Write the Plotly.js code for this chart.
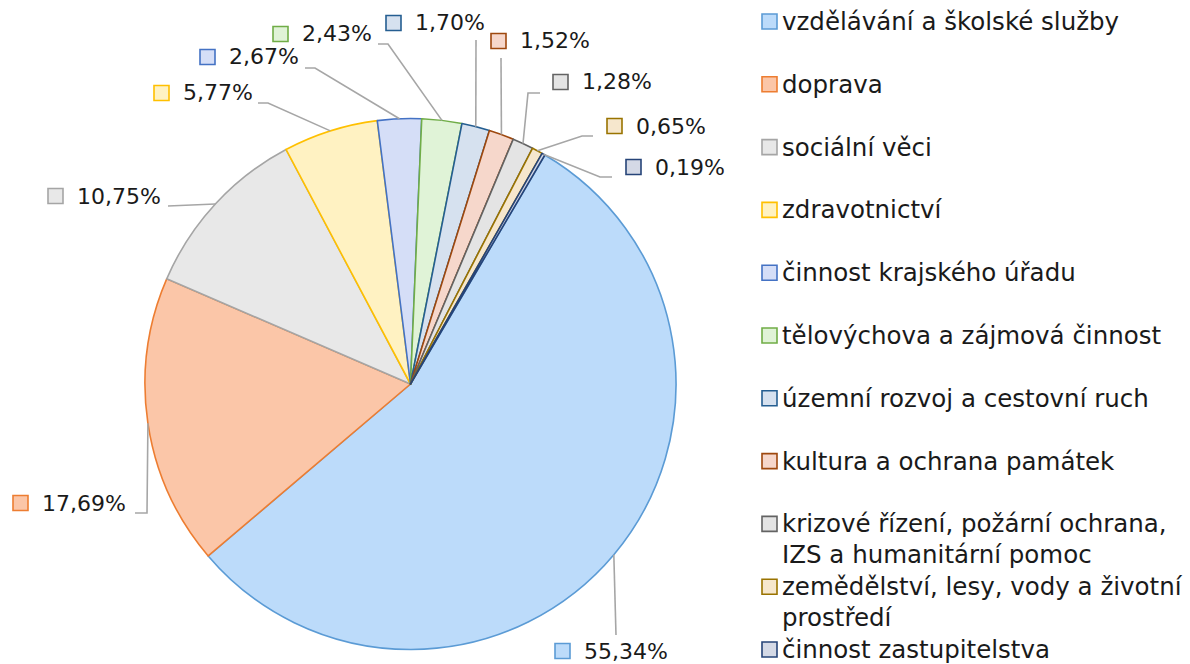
<!DOCTYPE html>
<html>
<head>
<meta charset="utf-8">
<script src="https://cdn.plot.ly/plotly-3.0.1.min.js"></script>
<style>html,body{margin:0;padding:0;background:#fff;}#chart{width:1190px;height:664px;}</style>
</head>
<body>
<div id="chart"></div>
<script>
// ---- data ----
const categories = [
  "vzdělávání a školské služby",
  "doprava",
  "sociální věci",
  "zdravotnictví",
  "činnost krajského úřadu",
  "tělovýchova a zájmová činnost",
  "územní rozvoj a cestovní ruch",
  "kultura a ochrana památek",
  "krizové řízení, požární ochrana,<br>IZS a humanitární pomoc",
  "zemědělství, lesy, vody a životní<br>prostředí",
  "činnost zastupitelstva"
];
const shares = [55.34, 17.69, 10.75, 5.77, 2.67, 2.43, 1.70, 1.52, 1.28, 0.65, 0.19];

// ---- styles ----
const fillColors = ['#bcdbfa', '#fbc6a8', '#e8e8e8', '#fff2c2', '#d5def7', '#e0f3d7', '#d6e1ef', '#f6d7cb', '#e4e4e4', '#f6e7cd', '#d4d9e6'];
const lineColors = ['#5b9bd5', '#ed7d31', '#a5a5a5', '#ffc000', '#4472c4', '#70ad47', '#255e91', '#9e480e', '#636363', '#997300', '#264478'];

const W = 1190, H = 664;
const CX = 410.5, CY = 384, R = 265.5;   // pie placement (px)
const ROT = 30.4;                          // start angle of first slice (deg, clockwise from 12 o'clock)
const FONT = 'DejaVu Sans, sans-serif';
const TEXT_COLOR = '#1a1a1a';

// label placement: square left x / centre y, and leader points from label towards slice edge (px)
const labelLayout = [
  {sq: [555, 651], lead: [[616, 635]]},
  {sq: [13, 503],  lead: [[135, 513], [147, 513]]},
  {sq: [48, 196],  lead: [[168, 206]]},
  {sq: [154, 93],  lead: [[258, 103], [268, 103]]},
  {sq: [200, 57],  lead: [[305, 68], [315, 68]]},
  {sq: [273, 34],  lead: [[378, 44], [388, 44]]},
  {sq: [386, 23],  lead: [[476, 40]]},
  {sq: [491, 41],  lead: [[501, 58]]},
  {sq: [553, 82],  lead: [[540, 93], [528, 93]]},
  {sq: [607, 126], lead: [[593, 136], [582, 136]]},
  {sq: [626, 167], lead: [[612, 177], [600, 177]]}
];
// legend placement (px)
const LEG = {sqX: 762, textX: 780, y0: 21.5, step: 62.8, lineStep: 31, size: 24.5};

const px = x => x / W;
const py = y => 1 - y / H;
const fmt = v => v.toFixed(2).replace('.', ',') + '%';

const total = shares.reduce((a, b) => a + b, 0);
const shapes = [];
const annotations = [];
function square(x, y, i) {
  shapes.push({type: 'rect', xref: 'paper', yref: 'paper',
    x0: px(x), x1: px(x + 15), y0: py(y - 7.5), y1: py(y + 7.5),
    fillcolor: fillColors[i], line: {color: lineColors[i], width: 1.6}, layer: 'above'});
}
let cum = 0;
shares.forEach((v, i) => {
  const mid = (ROT + (cum + v / 2) / total * 360) * Math.PI / 180;
  cum += v;
  const ex = CX + R * Math.sin(mid);
  const ey = CY - R * Math.cos(mid);
  const L = labelLayout[i];
  const pts = L.lead.concat([[ex, ey]]);
  let d = 'M' + px(pts[0][0]) + ',' + py(pts[0][1]);
  for (let k = 1; k < pts.length; k++) d += ' L' + px(pts[k][0]) + ',' + py(pts[k][1]);
  shapes.push({type: 'path', xref: 'paper', yref: 'paper', path: d,
    line: {color: '#a6a6a6', width: 1.6}, layer: 'above'});
  square(L.sq[0], L.sq[1], i);
  annotations.push({xref: 'paper', yref: 'paper', x: px(L.sq[0] + 27), y: py(L.sq[1]),
    xanchor: 'left', yanchor: 'middle', showarrow: false, text: fmt(v),
    font: {family: FONT, size: 22, color: TEXT_COLOR}});
});

// legend entries
categories.forEach((c, i) => {
  const yc = LEG.y0 + LEG.step * i;
  square(LEG.sqX, yc, i);
  c.split('<br>').forEach((line, k) => {
    annotations.push({xref: 'paper', yref: 'paper', x: px(LEG.textX), y: py(yc + k * LEG.lineStep),
      xanchor: 'left', yanchor: 'middle', showarrow: false, text: line,
      font: {family: FONT, size: LEG.size, color: TEXT_COLOR}});
  });
});

const trace = {
  type: 'pie',
  labels: categories,
  values: shares,
  sort: false,
  direction: 'clockwise',
  rotation: ROT,
  textinfo: 'none',
  hoverinfo: 'none',
  showlegend: false,
  marker: {colors: fillColors, line: {color: lineColors, width: 1.6}},
  domain: {x: [px(CX - R), px(CX + R)], y: [py(CY + R), py(CY - R)]}
};

const layout = {
  width: W, height: H,
  margin: {l: 0, r: 0, t: 0, b: 0, pad: 0},
  paper_bgcolor: '#ffffff',
  showlegend: false,
  shapes: shapes,
  annotations: annotations
};

Plotly.newPlot('chart', [trace], layout, {staticPlot: true, displayModeBar: false});
</script>
</body>
</html>
